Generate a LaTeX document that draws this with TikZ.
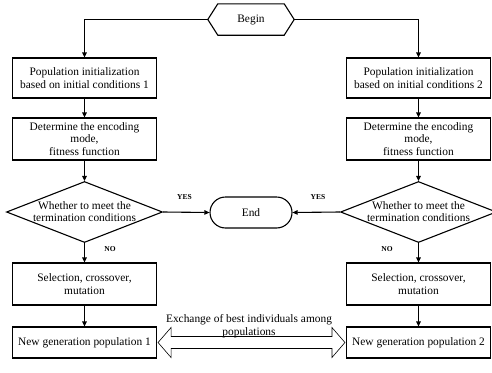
\documentclass[tikz,border=0pt]{standalone}
\usepackage{fontspec}
\setmainfont{Liberation Serif}
\usetikzlibrary{shapes.geometric,shapes.misc,arrows.meta,calc}
\begin{document}
\begin{tikzpicture}[x=1pt,y=-1pt,
  every node/.style={font=\fontsize{11.4}{12.5}\selectfont},
  box/.style={draw,line width=1.1pt,minimum width=144pt,align=center,inner sep=1pt},
  dia/.style={draw,line width=1.1pt,diamond,minimum width=156pt,minimum height=61pt,inner sep=0pt},
  arr/.style={line width=1.1pt,-{Triangle[length=5pt,width=4.5pt]}},
  lbl/.style={font=\fontsize{7.5}{8}\selectfont\bfseries},
  ln/.style={line width=1.1pt}]
\useasboundingbox (0,0) rectangle (492,372);

% Begin hexagon
\node[minimum width=86pt,minimum height=31pt,inner sep=0pt] (begin) at (251,19.5) {Begin};
\draw[ln] (begin.west) -- ([xshift=10pt]begin.north west) -- ([xshift=-10pt]begin.north east)
  -- (begin.east) -- ([xshift=-10pt]begin.south east) -- ([xshift=10pt]begin.south west) -- cycle;

% left column
\node[box,minimum height=40pt] (p1) at (84.5,78) {Population initialization\\based on initial conditions 1};
\node[box,minimum height=42pt] (e1) at (84.5,139) {Determine the encoding\\mode,\\fitness function};
\node[dia] (d1) at (84.5,212) {};
\node[align=center,inner sep=0pt] (d1t) at (84.5,211.5) {Whether to meet the\\termination conditions};
\node[box,minimum height=42pt] (s1) at (84.5,284) {Selection, crossover,\\mutation};
\node[box,minimum height=31pt] (n1) at (84.5,342.5) {New generation population 1};

% right column
\node[box,minimum height=40pt] (p2) at (418.5,78) {Population initialization\\based on initial conditions 2};
\node[box,minimum height=42pt] (e2) at (418.5,139) {Determine the encoding\\mode,\\fitness function};
\node[dia] (d2) at (418.5,212) {};
\node[align=center,inner sep=0pt] (d2t) at (418.5,211.5) {Whether to meet the\\termination conditions};
\node[box,minimum height=42pt] (s2) at (418.5,284) {Selection, crossover,\\mutation};
\node[box,minimum height=31pt] (n2) at (418.5,342.5) {New generation population 2};

% End
\node[draw,line width=1.1pt,rounded rectangle,minimum width=82pt,minimum height=31pt,inner sep=0pt] (end) at (251,212.5) {End};

% connectors
\draw[arr] (begin.west) -| (p1.north);
\draw[arr] (begin.east) -| (p2.north);
\draw[arr] (p1) -- (e1);
\draw[arr] (p2) -- (e2);
\draw[arr] (e1) -- (d1.north);
\draw[arr] (e2) -- (d2.north);
\draw[arr] (d1.south) -- (s1);
\draw[arr] (d2.south) -- (s2);
\draw[arr] (s1) -- (n1);
\draw[arr] (s2) -- (n2);
\draw[arr] (d1.east) -- (end.west);
\draw[arr] (d2.west) -- (end.east);

% labels
\node[lbl] (yes1) at (184.5,197) {YES};
\node[lbl] (yes2) at (318,197) {YES};
\node[lbl] (no1) at (110,249) {NO};
\node[lbl] (no2) at (387,249) {NO};

% exchange double arrow
\coordinate (a) at ($(n1.east)+(1,0)$);
\coordinate (b) at ($(n2.west)+(-1,0)$);
\draw[line width=0.6pt] (a) -- ++(13,-15) -- ++(0,9) -- ($(b)+(-13,-6)$) -- ++(0,-9) -- (b)
  -- ++(-13,15) -- ++(0,-9) -- ($(a)+(13,6)$) -- ++(0,9) -- cycle;
\node[align=center,inner sep=0pt] (ex) at (249,326) {Exchange of best individuals among\\populations};
\end{tikzpicture}
\end{document}
